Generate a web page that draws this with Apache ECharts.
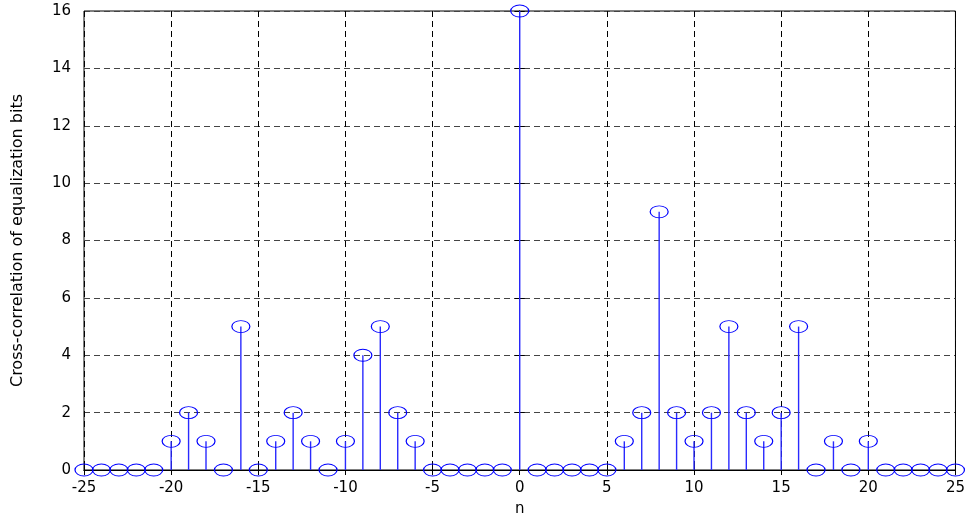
<!DOCTYPE html>
<html><head><meta charset="utf-8">
<script src="https://cdn.jsdelivr.net/npm/echarts@6/dist/echarts.min.js"></script>
<style>html,body{margin:0;padding:0;background:#fff}#c{width:968px;height:522px}</style>
</head><body><div id="c"></div>
<script>
const lags = [-25,-24,-23,-22,-21,-20,-19,-18,-17,-16,-15,-14,-13,-12,-11,-10,-9,-8,-7,-6,-5,-4,-3,-2,-1,0,1,2,3,4,5,6,7,8,9,10,11,12,13,14,15,16,17,18,19,20,21,22,23,24,25];
const xcorr = [0,0,0,0,0,1,2,1,0,5,0,1,2,1,0,1,4,5,2,1,0,0,0,0,0,16,0,0,0,0,0,1,2,9,2,1,2,5,2,1,2,5,0,1,0,1,0,0,0,0,0];
const xTicks = [-25,-20,-15,-10,-5,0,5,10,15,20,25];
const yTicks = [0,2,4,6,8,10,12,14,16];
const xName = 'n';
const yName = 'Cross-correlation of equalization bits';

const pts = lags.map((n,i)=>[n, xcorr[i]]);
const font = '"DejaVu Sans", "Liberation Sans", Arial, sans-serif';
const chart = echarts.init(document.getElementById('c'), null, {renderer:'canvas'});
const blue = '#0000ff';
const stemBlue = '#2a2aff';
const baseAxis = {
  axisLine:{show:true, lineStyle:{color:'#000', width:1}},
  axisTick:{show:true, inside:true, length:5, lineStyle:{color:'#000'}},
};
chart.setOption({
  animation:false,
  grid:{left:84, right:12, top:11, bottom:49, show:true, borderColor:'#000', borderWidth:1, containLabel:false},
  xAxis:[{
    type:'value', min:-25, max:25, interval:5,
    ...baseAxis,
    axisLabel:{color:'#000', fontFamily:font, fontSize:15, margin:11},
    splitLine:{show:true, lineStyle:{color:'#000', type:[6,4], width:1}},
    name:xName, nameLocation:'middle', nameGap:32,
    nameTextStyle:{color:'#000', fontFamily:font, fontSize:15}
  },{
    type:'value', min:-25, max:25, interval:5, position:'top',
    ...baseAxis, axisLabel:{show:false}, splitLine:{show:false}
  }],
  yAxis:[{
    type:'value', min:0, max:16, interval:2,
    ...baseAxis,
    axisLabel:{color:'#000', fontFamily:font, fontSize:15, margin:13},
    splitLine:{show:true, lineStyle:{color:'#444', type:[6,4], width:1}},
    name:yName, nameLocation:'middle', nameGap:58, nameRotate:90,
    nameTextStyle:{color:'#000', fontFamily:font, fontSize:16}
  },{
    type:'value', min:0, max:16, interval:2, position:'right',
    ...baseAxis, axisLabel:{show:false}, splitLine:{show:false}
  }],
  series:[{
    type:'custom',
    data: pts,
    z:3,
    renderItem:function(params, api){
      const top = api.coord([api.value(0), api.value(1)]);
      const bot = api.coord([api.value(0), 0]);
      return {type:'line', shape:{x1:top[0], y1:top[1], x2:bot[0], y2:bot[1]},
        style:{stroke:stemBlue, lineWidth:1.4}};
    }
  },{
    type:'scatter',
    data: pts,
    z:4,
    symbol:'path://M0,6 A9,6 0 1 1 18,6 A9,6 0 1 1 0,6 Z',
    symbolSize:[18,12],
    symbolKeepAspect:false,
    itemStyle:{color:'rgba(0,0,0,0)', borderColor:blue, borderWidth:1, opacity:1},
    emphasis:{disabled:true},
    clip:false
  }]
});
</script></body></html>
